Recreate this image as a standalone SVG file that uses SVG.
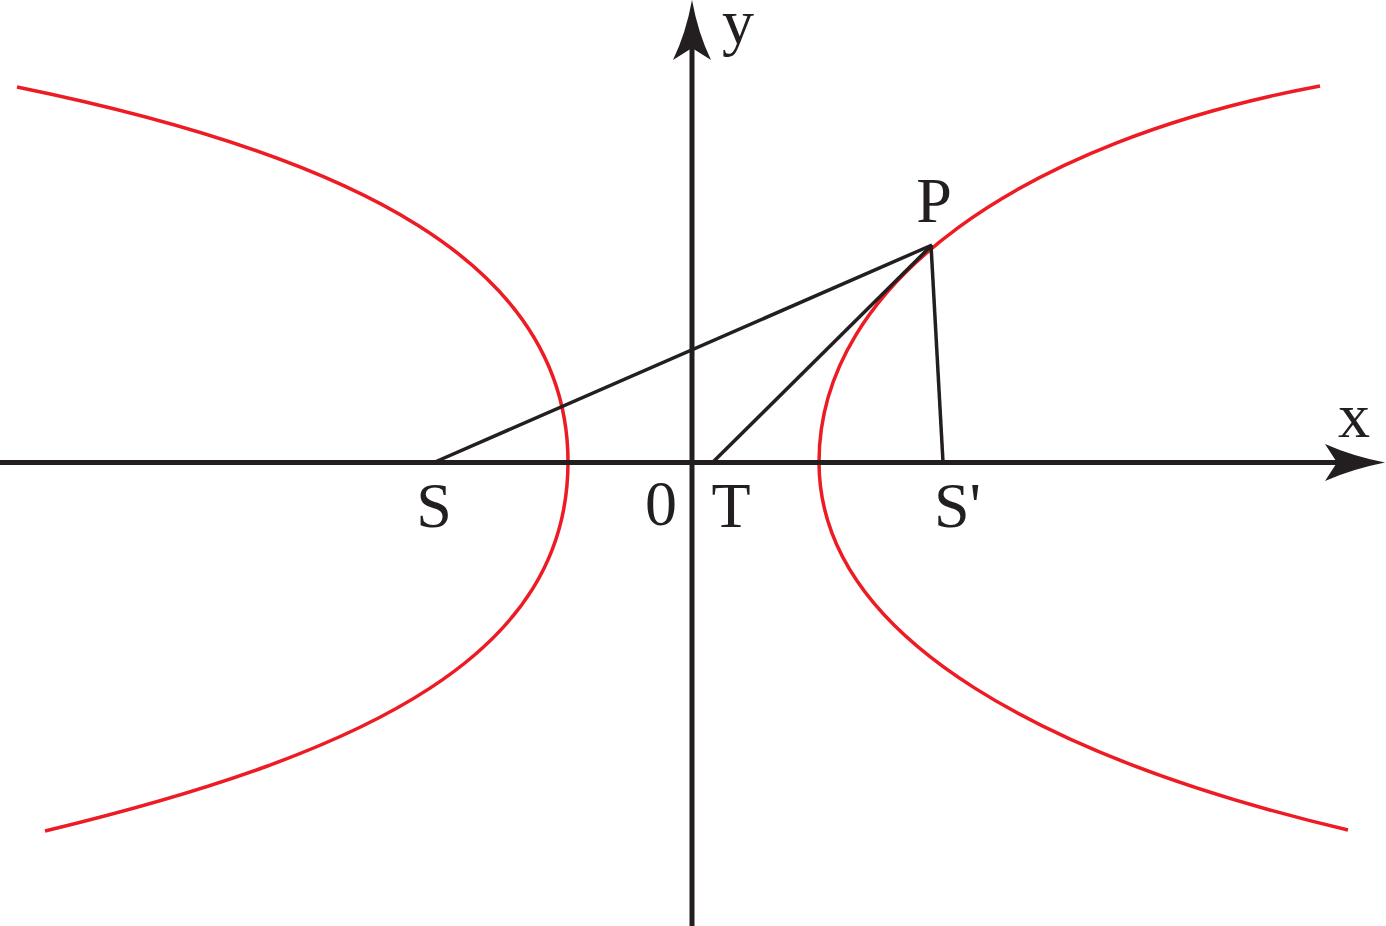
<svg xmlns="http://www.w3.org/2000/svg" width="1386" height="926" viewBox="0 0 1386 926">
<style>
.curve{fill:none;stroke:#ED1C24;stroke-width:3.5}
.line{fill:none;stroke:#231F20;stroke-width:3.5}
.axis{fill:none;stroke:#231F20;stroke-width:5}
.head{fill:#231F20;stroke:none}
.lbl{font-family:"Liberation Serif","Times New Roman",serif;font-size:64px;fill:#231F20}
</style>
<rect width="1386" height="926" fill="#fff"/>
<g id="curves">
<path id="left-branch" class="curve" d="M17,87 C350,155 568,262 568,462 C568,652 375.5,751.4 45,831"/>
<path id="right-branch" class="curve" d="M1320,86 C1025,141 819,282 819,462 C819,642 1056,761 1348,830"/>
</g>
<g id="axes">
<line id="x-axis" class="axis" x1="0" y1="462.5" x2="1340" y2="462.5"/>
<path id="x-arrow" class="head" d="M1385,462.5 Q1352,456 1325,444 L1337,462.5 L1325,481 Q1352,469 1385,462.5 Z"/>
<line id="y-axis" class="axis" x1="692" y1="926" x2="692" y2="45"/>
<path id="y-arrow" class="head" d="M692,0 Q698,33 711,60 L692,48 L673,60 Q686,33 692,0 Z"/>
</g>
<g id="connectors">
<line id="SP" class="line" x1="435" y1="462" x2="932" y2="245"/>
<line id="TP" class="line" x1="713" y1="462" x2="932" y2="245"/>
<line id="PS2" class="line" x1="931" y1="245" x2="943" y2="462"/>
</g>
<g id="labels">
<text id="lbl-S" class="lbl" x="434" y="527" text-anchor="middle">S</text>
<text id="lbl-0" class="lbl" x="661" y="525" text-anchor="middle">0</text>
<text id="lbl-T" class="lbl" x="731" y="527" text-anchor="middle">T</text>
<text id="lbl-S2" class="lbl" x="934" y="527">S'</text>
<text id="lbl-P" class="lbl" x="934" y="222" text-anchor="middle">P</text>
<text id="lbl-x" class="lbl" x="1354" y="437" text-anchor="middle">x</text>
<text id="lbl-y" class="lbl" x="738" y="43" text-anchor="middle">y</text>
</g>
</svg>
